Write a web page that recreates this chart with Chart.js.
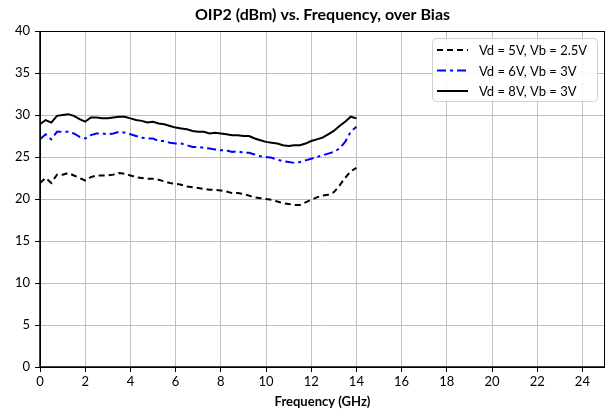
<!DOCTYPE html>
<html>
<head>
<meta charset="utf-8">
<script src="https://cdn.jsdelivr.net/npm/chart.js@4"></script>
<style>
  html, body { margin: 0; padding: 0; background: #fff; }
  #wrap { width: 611px; height: 414px; position: relative; }
</style>
</head>
<body>
<div id="wrap"><canvas id="c"></canvas></div>
<script>
// ---- OIP2 vs frequency, three bias points ----
const FONT = 'Lato, "Open Sans", sans-serif';

const freqGHz = [
  0, 0.25, 0.5, 0.75, 1, 1.25, 1.5, 1.75, 2, 2.25, 2.5, 2.75, 3, 3.25, 3.5, 3.75,
  4, 4.25, 4.5, 4.75, 5, 5.25, 5.5, 5.75, 6, 6.25, 6.5, 6.75, 7, 7.25, 7.5, 7.75,
  8, 8.25, 8.5, 8.75, 9, 9.25, 9.5, 9.75, 10, 10.25, 10.5, 10.75, 11, 11.25, 11.5, 11.75,
  12, 12.25, 12.5, 12.75, 13, 13.25, 13.5, 13.75, 14,
];

const oip2Vd5 = [
  21.9, 22.5, 21.9, 22.9, 22.9, 23.1, 22.8, 22.5, 22.2, 22.6, 22.8, 22.8, 22.8, 22.9, 23.1, 23.0,
  22.8, 22.6, 22.5, 22.4, 22.4, 22.3, 22.1, 21.9, 21.8, 21.7, 21.5, 21.4, 21.3, 21.2, 21.1, 21.1,
  21.0, 20.9, 20.7, 20.7, 20.6, 20.4, 20.2, 20.1, 20.0, 19.9, 19.7, 19.5, 19.4, 19.3, 19.3, 19.6,
  19.9, 20.2, 20.4, 20.5, 20.8, 21.6, 22.5, 23.3, 23.7,
];

const oip2Vd6 = [
  27.1, 27.7, 27.1, 28.0, 28.0, 28.0, 27.8, 27.4, 27.2, 27.6, 27.8, 27.8, 27.7, 27.8, 28.0, 27.9,
  27.7, 27.5, 27.3, 27.2, 27.2, 26.9, 26.9, 26.7, 26.6, 26.6, 26.4, 26.2, 26.2, 26.1, 26.0, 25.9,
  25.8, 25.8, 25.6, 25.7, 25.5, 25.5, 25.3, 25.1, 25.0, 24.9, 24.7, 24.5, 24.4, 24.3, 24.4, 24.6,
  24.8, 25.0, 25.2, 25.4, 25.6, 26.0, 26.8, 28.0, 28.6,
];

const oip2Vd8 = [
  28.9, 29.4, 29.1, 29.9, 30.0, 30.1, 29.9, 29.5, 29.2, 29.7, 29.7, 29.6, 29.6, 29.7, 29.8, 29.8,
  29.6, 29.4, 29.3, 29.1, 29.2, 29.0, 28.9, 28.7, 28.5, 28.4, 28.3, 28.1, 28.0, 28.0, 27.8, 27.9,
  27.8, 27.7, 27.6, 27.6, 27.5, 27.5, 27.2, 27.0, 26.8, 26.7, 26.6, 26.4, 26.3, 26.4, 26.4, 26.6,
  26.9, 27.1, 27.3, 27.7, 28.1, 28.7, 29.2, 29.8, 29.6,
];

const seriesLabels = ['Vd = 5V, Vb = 2.5V', 'Vd = 6V, Vb = 3V', 'Vd = 8V, Vb = 3V'];
const titleText = 'OIP2 (dBm) vs. Frequency, over Bias';
const xTitle = 'Frequency (GHz)';

const pts = ys => freqGHz.map((f, i) => ({ x: f, y: ys[i] }));

// frame, title and boxed legend drawn on top of the chart area
const decor = {
  id: 'decor',
  afterDraw(chart) {
    const { ctx, chartArea: a } = chart;
    ctx.save();
    ctx.strokeStyle = '#000';
    ctx.lineWidth = 1;
    ctx.strokeRect(a.left + 0.5, a.top + 0.5, a.right - a.left - 1, a.bottom - a.top);
    ctx.lineWidth = 1.5;
    ctx.beginPath();
    ctx.moveTo(a.left, a.top); ctx.lineTo(a.left, a.bottom); ctx.lineTo(a.right, a.bottom);
    ctx.stroke();

    ctx.fillStyle = '#000';
    ctx.font = `bold 16px ${FONT}`;
    ctx.textAlign = 'center';
    ctx.textBaseline = 'middle';
    ctx.fillText(titleText, (a.left + a.right) / 2, 15);

    // legend box
    const bx = 432, by = 38, bw = 165, bh = 63;
    ctx.beginPath();
    ctx.roundRect(bx + 0.5, by + 0.5, bw, bh, 4);
    ctx.fillStyle = 'rgba(255,255,255,0.85)';
    ctx.fill();
    ctx.strokeStyle = '#d0d0d0';
    ctx.lineWidth = 1;
    ctx.stroke();
    ctx.font = `13px ${FONT}`;
    ctx.textAlign = 'left';
    chart.data.datasets.forEach((ds, i) => {
      const y = by + 12 + i * 20.5;
      ctx.beginPath();
      ctx.strokeStyle = ds.borderColor;
      ctx.lineWidth = 2;
      ctx.setLineDash(ds.borderDash || []);
      ctx.moveTo(437, y); ctx.lineTo(468, y);
      ctx.stroke();
      ctx.setLineDash([]);
      ctx.fillStyle = '#000';
      ctx.fillText(ds.label, 479, y + 1);
    });
    ctx.restore();
  },
};

const line = (label, ys, color, dash) => ({
  label, data: pts(ys), borderColor: color, backgroundColor: color,
  borderWidth: 2, borderDash: dash, pointRadius: 0, tension: 0, fill: false,
});

new Chart(document.getElementById('c'), {
  type: 'line',
  data: {
    datasets: [
      line(seriesLabels[0], oip2Vd5, '#000000', [6, 4]),
      line(seriesLabels[1], oip2Vd6, '#0000ff', [9, 4, 3, 4]),
      line(seriesLabels[2], oip2Vd8, '#000000', []),
    ],
  },
  plugins: [decor],
  options: {
    responsive: true, maintainAspectRatio: false, animation: false,
    layout: { padding: { top: 31, right: 6, left: 0, bottom: 0 } },
    plugins: { legend: { display: false }, title: { display: false }, tooltip: { enabled: false } },
    scales: {
      x: {
        type: 'linear', min: 0, max: 25,
        ticks: { stepSize: 2, includeBounds: false, color: '#000', font: { family: FONT, size: 13 }, padding: 2, maxRotation: 0 },
        grid: { color: '#c0c0c0', tickColor: '#000', tickLength: 5, lineWidth: 1 },
        border: { display: false },
        title: { display: true, text: xTitle, color: '#000', font: { family: FONT, size: 13, weight: 'bold' }, padding: { top: 0 } },
        afterFit: s => { s.height = 47; },
      },
      y: {
        min: 0, max: 40,
        ticks: { stepSize: 5, color: '#000', font: { family: FONT, size: 13 }, padding: 5 },
        grid: { color: '#c0c0c0', tickColor: '#000', tickLength: 5, lineWidth: 1 },
        border: { display: false },
        afterFit: s => { s.width = 40; },
      },
    },
  },
});
</script>
</body>
</html>
